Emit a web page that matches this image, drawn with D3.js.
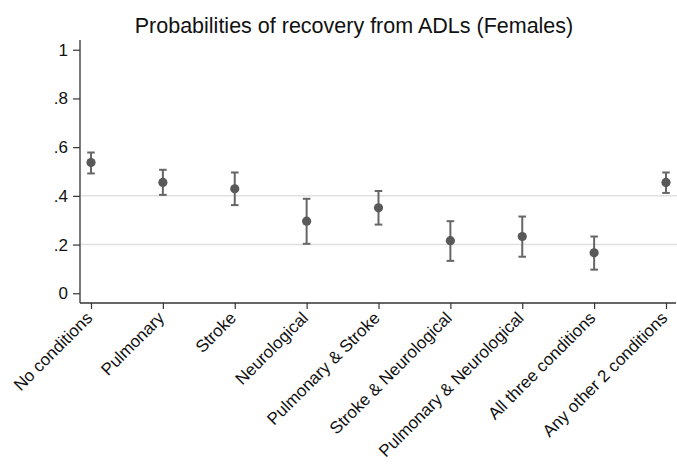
<!DOCTYPE html>
<html><head><meta charset="utf-8">
<script src="https://cdn.jsdelivr.net/npm/d3@7"></script>
<style>body{margin:0;background:#fff}svg{display:block;font-family:"Liberation Sans",Arial,sans-serif}</style>
</head><body><svg id="c" width="677" height="464"></svg>
<script>
const categories = ["No conditions","Pulmonary","Stroke","Neurological","Pulmonary & Stroke","Stroke & Neurological","Pulmonary & Neurological","All three conditions","Any other 2 conditions"];
const estimates = [0.537,0.455,0.429,0.296,0.351,0.216,0.233,0.166,0.455];
const lower = [0.492,0.404,0.362,0.203,0.282,0.133,0.150,0.097,0.412];
const upper = [0.578,0.507,0.496,0.388,0.420,0.296,0.315,0.233,0.496];
const yTicks = [0,0.2,0.4,0.6,0.8,1];
const yTickLabels = ["0",".2",".4",".6",".8","1"];
const gridValues = [0.2,0.4];
const title = "Probabilities of recovery from ADLs (Females)";

const svg = d3.select("#c");
const x = d3.scalePoint().domain(categories).range([80,677]).padding(0.153);
const y = d3.scaleLinear().domain([-0.04,1.04]).range([303,40]);

svg.append("text").attr("x",354).attr("y",33).attr("text-anchor","middle")
  .attr("font-size",21.5).attr("fill","#111").text(title);

svg.append("g").selectAll("line").data(gridValues).join("line")
  .attr("x1",81).attr("x2",677).attr("y1",d=>y(d)).attr("y2",d=>y(d))
  .attr("stroke","#e0e0e0").attr("stroke-width",1.5);

const yAxis = svg.append("g").attr("transform","translate(80,0)")
  .call(d3.axisLeft(y).tickValues(yTicks).tickFormat((d,i)=>yTickLabels[i]).tickSize(7).tickPadding(5));
yAxis.select(".domain").attr("d","M0,40V303").attr("stroke","#333").attr("stroke-width",1.3);
yAxis.selectAll(".tick line").attr("stroke","#333").attr("stroke-width",1.2);
yAxis.selectAll(".tick text").attr("font-size",17).attr("fill","#111").attr("font-family","Liberation Sans, Arial, sans-serif");

const xAxis = svg.append("g").attr("transform","translate(0,303)")
  .call(d3.axisBottom(x).tickSize(6).tickPadding(3));
xAxis.select(".domain").attr("d","M80,0H676").attr("stroke","#333").attr("stroke-width",1.3);
xAxis.selectAll(".tick line").attr("stroke","#333").attr("stroke-width",1.2);
xAxis.selectAll(".tick text").attr("font-size",17).attr("fill","#111")
  .attr("font-family","Liberation Sans, Arial, sans-serif")
  .attr("text-anchor","end").attr("dy","0")
  .attr("transform","translate(2,16) rotate(-45)").attr("y",0).attr("x",0);

const g = svg.append("g");
const idx = d3.range(categories.length);
g.selectAll("line.ci").data(idx).join("line").attr("class","ci")
  .attr("x1",i=>x(categories[i])).attr("x2",i=>x(categories[i]))
  .attr("y1",i=>y(lower[i])).attr("y2",i=>y(upper[i]))
  .attr("stroke","#666").attr("stroke-width",2);
[lower,upper].forEach(arr=>{
  g.selectAll(null).data(idx).join("line")
    .attr("x1",i=>x(categories[i])-3.8).attr("x2",i=>x(categories[i])+3.8)
    .attr("y1",i=>y(arr[i])).attr("y2",i=>y(arr[i]))
    .attr("stroke","#666").attr("stroke-width",2);
});
g.selectAll("circle").data(idx).join("circle")
  .attr("cx",i=>x(categories[i])).attr("cy",i=>y(estimates[i])).attr("r",4.6)
  .attr("fill","#595959");
</script></body></html>
